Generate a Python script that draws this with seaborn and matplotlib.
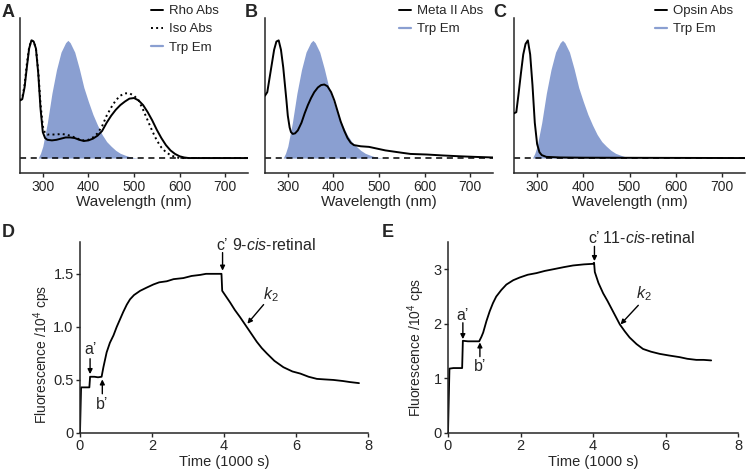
import numpy as np
import pandas as pd
import matplotlib
matplotlib.use("Agg")
import matplotlib.pyplot as plt
import seaborn as sns

# ---- spectra (normalised absorbance / emission) ----
rho_nm = [250, 255, 260, 265, 270, 275, 280, 285, 290, 295, 300, 305, 310, 320, 330, 340, 350,
          360, 370, 380, 390, 400, 410, 420, 430, 440, 450, 460, 470, 480, 490, 500, 510, 520,
          530, 540, 550, 560, 570, 580, 590, 600, 610, 620, 750]
rho_abs = [0.49, 0.50, 0.60, 0.77, 0.93, 1.00, 0.99, 0.93, 0.72, 0.42, 0.22, 0.17, 0.155, 0.15,
           0.155, 0.165, 0.175, 0.175, 0.17, 0.155, 0.145, 0.15, 0.165, 0.19, 0.23, 0.30, 0.36,
           0.41, 0.45, 0.48, 0.505, 0.51, 0.49, 0.45, 0.39, 0.32, 0.24, 0.17, 0.11, 0.065, 0.035,
           0.015, 0.005, 0.0, 0.0]

iso_nm = [250, 255, 260, 265, 270, 275, 280, 285, 290, 295, 300, 305, 310, 320, 330, 340, 350,
          360, 370, 380, 390, 400, 410, 420, 430, 440, 450, 460, 470, 480, 490, 500, 510, 520,
          530, 540, 550, 560, 570, 580, 590, 600, 750]
iso_abs = [0.49, 0.51, 0.62, 0.80, 0.94, 1.00, 0.99, 0.93, 0.74, 0.46, 0.27, 0.21, 0.20, 0.20,
           0.20, 0.205, 0.20, 0.19, 0.175, 0.16, 0.15, 0.155, 0.175, 0.21, 0.27, 0.36, 0.43,
           0.49, 0.53, 0.55, 0.55, 0.53, 0.49, 0.41, 0.32, 0.23, 0.15, 0.09, 0.05, 0.025, 0.01,
           0.0, 0.0]

meta_nm = [250, 255, 260, 265, 270, 275, 280, 285, 290, 297, 300, 304, 307, 311, 316, 322, 330,
           337, 344, 351, 358, 366, 373, 380, 387, 395, 402, 409, 416, 424, 431, 438, 445, 460,
           478, 496, 514, 532, 550, 569, 605, 640, 677, 710, 750]
meta_abs = [0.53, 0.56, 0.68, 0.80, 0.92, 0.99, 1.00, 0.92, 0.77, 0.49, 0.36, 0.26, 0.22, 0.205,
            0.21, 0.235, 0.30, 0.38, 0.45, 0.51, 0.56, 0.60, 0.62, 0.625, 0.61, 0.56, 0.49,
            0.40, 0.31, 0.23, 0.17, 0.13, 0.11, 0.10, 0.095, 0.08, 0.065, 0.055, 0.045, 0.035,
            0.03, 0.022, 0.015, 0.01, 0.005]

opsin_nm = [250, 255, 260, 265, 270, 275, 280, 285, 290, 295, 300, 305, 310, 320, 350, 400, 750]
opsin_abs = [0.38, 0.39, 0.55, 0.72, 0.88, 0.97, 1.00, 0.88, 0.62, 0.30, 0.12, 0.05, 0.025,
             0.01, 0.005, 0.003, 0.0]

trp_nm = [290, 295, 300, 310, 320, 330, 340, 350, 355, 360, 370, 380, 390, 400, 410, 420, 430,
          440, 450, 460, 470, 480, 490, 500, 510]
trp_em = [0.0, 0.04, 0.10, 0.30, 0.55, 0.75, 0.90, 0.98, 1.00, 0.98, 0.90, 0.76, 0.60, 0.48,
          0.37, 0.28, 0.20, 0.14, 0.10, 0.065, 0.04, 0.025, 0.012, 0.004, 0.0]

wl_ticks = [300, 400, 500, 600, 700]

# ---- fluorescence time courses (time in 1000 s, fluorescence in 10^4 cps) ----
d_time = [0.0, 0.03, 0.1, 0.2, 0.26, 0.28, 0.4, 0.5, 0.6, 0.65, 0.74, 0.83, 0.93, 1.02, 1.11,
          1.2, 1.3, 1.39, 1.5, 1.67, 1.85, 2.04, 2.2, 2.41, 2.6, 2.87, 3.1, 3.34, 3.5, 3.7, 3.93,
          3.95, 4.05, 4.17, 4.3, 4.45, 4.63, 4.77, 4.91, 5.05, 5.19, 5.4, 5.65, 5.9, 6.12, 6.35,
          6.58, 6.8, 7.04, 7.3, 7.5, 7.75]
d_fluo = [0.0, 0.43, 0.43, 0.43, 0.43, 0.53, 0.53, 0.525, 0.53, 0.62, 0.76, 0.85, 0.92, 1.0,
          1.07, 1.14, 1.21, 1.26, 1.3, 1.34, 1.37, 1.40, 1.42, 1.43, 1.45, 1.46, 1.48, 1.49,
          1.5, 1.5, 1.5, 1.34, 1.29, 1.23, 1.16, 1.09, 1.0, 0.93, 0.86, 0.8, 0.75, 0.68, 0.62,
          0.58, 0.56, 0.53, 0.51, 0.505, 0.50, 0.49, 0.48, 0.47]

e_time = [0.0, 0.04, 0.15, 0.3, 0.39, 0.41, 0.55, 0.7, 0.86, 0.92, 0.97, 1.06, 1.15, 1.24, 1.33,
          1.47, 1.61, 1.8, 1.98, 2.2, 2.44, 2.67, 2.9, 3.2, 3.45, 3.75, 4.0, 4.03, 4.05, 4.15,
          4.28, 4.4, 4.55, 4.74, 4.88, 5.01, 5.2, 5.38, 5.6, 5.84, 6.1, 6.39, 6.6, 6.85, 7.05,
          7.26]
e_fluo = [0.0, 1.18, 1.19, 1.19, 1.19, 1.69, 1.68, 1.68, 1.68, 1.76, 1.84, 2.05, 2.23, 2.38,
          2.5, 2.62, 2.72, 2.8, 2.85, 2.9, 2.93, 2.97, 3.0, 3.04, 3.07, 3.09, 3.1, 3.12, 2.95,
          2.75, 2.56, 2.42, 2.23, 1.99, 1.86, 1.75, 1.63, 1.54, 1.49, 1.45, 1.42, 1.39, 1.36,
          1.34, 1.34, 1.33]

BLUE = "#8A9FD1"

sns.set_style("ticks")
plt.rcParams["font.family"] = ["Liberation Sans", "DejaVu Sans"]
plt.rcParams["mathtext.fontset"] = "custom"
plt.rcParams["mathtext.rm"] = "Liberation Sans"
plt.rcParams["mathtext.it"] = "Liberation Sans:italic"
plt.rcParams["axes.linewidth"] = 1.1
plt.rcParams["xtick.major.width"] = 1.0
plt.rcParams["ytick.major.width"] = 1.0
plt.rcParams["xtick.major.size"] = 3
plt.rcParams["ytick.major.size"] = 3

W, H = 747, 476
fig = plt.figure(figsize=(W / 100, H / 100), dpi=100)


def px_axes(left, top, right, bottom):
    return fig.add_axes([left / W, 1 - bottom / H, (right - left) / W, (bottom - top) / H])


def spectrum_panel(ax, curves, legend_x):
    ax.fill_between(trp_nm, trp_em, 0, color=BLUE, lw=0, zorder=1)
    ax.axhline(0, color="black", ls=(0, (4, 3)), lw=1.1, zorder=2)
    handles = []
    for nm, vals, style, lab in curves:
        df = pd.DataFrame({"nm": nm, "v": vals})
        sns.lineplot(data=df, x="nm", y="v", ax=ax, color="black", lw=1.4, ls=style,
                     estimator=None, sort=False, zorder=3)
        handles.append(plt.Line2D([], [], color="black", lw=1.4, ls=style, label=lab))
    handles.append(plt.Line2D([], [], color=BLUE, lw=1.6, label="Trp Em"))
    ax.set_xlim(250, 750)
    ax.set_ylim(-0.127, 1.19)
    ax.set_xticks(wl_ticks)
    ax.set_yticks([])
    ax.tick_params(axis="x", labelsize=10, pad=2)
    ax.set_xlabel("Wavelength (nm)", fontsize=11, labelpad=1)
    ax.set_ylabel("")
    sns.despine(ax=ax)
    fig.legend(handles=handles, loc="upper left", bbox_to_anchor=(legend_x / W, 1 - 5 / H),
               frameon=False, fontsize=9.5, handlelength=0.9, handletextpad=0.45,
               labelspacing=0.45, borderpad=0, borderaxespad=0)


axA = px_axes(20, 18, 248, 173)
spectrum_panel(axA, [(rho_nm, rho_abs, "-", "Rho Abs"), (iso_nm, iso_abs, ":", "Iso Abs")], 151)
axB = px_axes(265, 18, 493, 173)
spectrum_panel(axB, [(meta_nm, meta_abs, "-", "Meta II Abs")], 399)
axC = px_axes(514, 18, 745, 173)
spectrum_panel(axC, [(opsin_nm, opsin_abs, "-", "Opsin Abs")], 655)


def arrow(ax, xy, xytext):
    ax.annotate("", xy=xy, xytext=xytext,
                arrowprops=dict(arrowstyle="-|>", color="black", lw=1.0,
                                mutation_scale=7, shrinkA=0, shrinkB=0))


def kinetics_panel(ax, t, f, ymax, yticks, ylabels, ann):
    df = pd.DataFrame({"t": t, "f": f})
    sns.lineplot(data=df, x="t", y="f", ax=ax, color="black", lw=1.3,
                 estimator=None, sort=False)
    ax.set_xlim(0, 8)
    ax.set_ylim(0, ymax)
    ax.set_xticks([0, 2, 4, 6, 8])
    ax.set_yticks(yticks)
    ax.set_yticklabels(ylabels)
    ax.tick_params(labelsize=10.5, pad=1.5)
    ax.set_xlabel("Time (1000 s)", fontsize=10.5, labelpad=1)
    ax.set_ylabel("Fluorescence /10$^{4}$ cps", fontsize=10, labelpad=3)
    sns.despine(ax=ax)
    for txt, pos, a_head, a_tail, kw in ann:
        ax.text(pos[0], pos[1], txt, fontsize=11.5, **kw)
        if a_head is not None:
            arrow(ax, a_head, a_tail)


axD = px_axes(80, 242, 368, 433)
kinetics_panel(
    axD, d_time, d_fluo, 1.8, [0, 0.5, 1.0, 1.5], ["0", "0.5", "1.0", "1.5"],
    [("a’", (0.28, 0.72), (0.28, 0.555), (0.28, 0.70), dict(ha="center", va="bottom")),
     ("b’", (0.62, 0.34), (0.62, 0.505), (0.62, 0.37), dict(ha="center", va="top")),
     ("c’", (3.96, 1.70), (3.96, 1.53), (3.96, 1.70), dict(ha="center", va="bottom")),
     ("9-$\\mathit{cis}$-retinal", (4.22, 1.70), None, None, dict(ha="left", va="bottom")),
     ("$k_2$", (5.3, 1.22), (4.65, 1.03), (5.1, 1.21), dict(ha="center", va="bottom"))])
axD.yaxis.set_label_coords(-0.094, 0.41)

axE = px_axes(448, 242, 738, 433)
kinetics_panel(
    axE, e_time, e_fluo, 3.5, [0, 1, 2, 3], ["0", "1", "2", "3"],
    [("a’", (0.41, 2.02), (0.41, 1.72), (0.41, 2.02), dict(ha="center", va="bottom")),
     ("b’", (0.88, 1.35), (0.88, 1.66), (0.88, 1.40), dict(ha="center", va="top")),
     ("c’", (4.04, 3.42), (4.04, 3.15), (4.04, 3.42), dict(ha="center", va="bottom")),
     ("11-$\\mathit{cis}$-retinal", (4.24, 3.42), None, None, dict(ha="left", va="bottom")),
     ("$k_2$", (5.4, 2.38), (4.76, 1.99), (5.25, 2.34), dict(ha="center", va="bottom"))])
axE.yaxis.set_label_coords(-0.072, 0.45)

for lab, x, y in [("A", 2, 17), ("B", 245, 17), ("C", 493, 17), ("D", 2, 237), ("E", 382, 237)]:
    fig.text(x / W, 1 - y / H, lab, fontsize=13, fontweight="bold", ha="left", va="baseline")

fig.savefig("out.png", dpi=100)
